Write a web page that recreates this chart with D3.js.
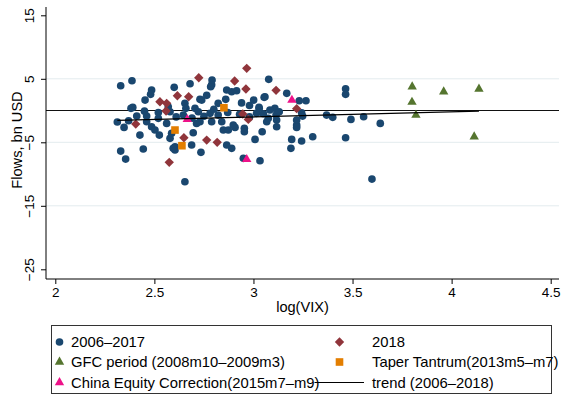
<!DOCTYPE html>
<html>
<head>
<meta charset="utf-8">
<script src="https://cdn.jsdelivr.net/npm/d3@7"></script>
<style>
  html, body { margin: 0; padding: 0; background: #fff; }
  svg { display: block; font-family: "Liberation Sans", Arial, sans-serif; }
</style>
</head>
<body>
<svg id="chart" width="563" height="395"></svg>
<script>
// Monthly portfolio flows (bn USD) against log(VIX)
const flows2006_2017 = [
  [2.330, 3.91], [2.387, 4.69], [2.486, 3.23], [2.481, 2.55], [2.453, 1.65],
  [2.600, 3.65], [2.680, 4.22], [2.791, 4.80], [2.789, 4.06], [2.784, 3.75],
  [2.764, 2.39], [2.730, 1.76], [2.865, 3.23], [2.890, 2.96], [2.915, 3.12],
  [2.860, 1.76], [3.001, 1.65], [3.054, 2.08], [3.077, 4.91], [3.168, 2.71],
  [2.391, 0.50], [2.382, 0.35], [2.313, -1.81], [2.347, -2.65], [2.411, -0.87],
  [2.461, -0.87], [2.461, -1.76], [2.486, -2.55], [2.503, -3.07], [2.525, -3.86],
  [2.520, -1.23], [2.427, -3.86], [2.579, -0.19], [2.562, -2.02], [2.587, -3.59],
  [2.579, -4.38], [2.604, -5.70], [2.604, -6.22], [2.654, 1.13], [2.659, 0.35],
  [2.646, -0.71], [2.705, 0.35], [2.722, -0.19], [2.739, 1.65], [2.730, -1.76],
  [2.713, -2.02], [2.696, -3.50], [2.688, -5.43], [2.735, -6.58], [2.781, -0.44],
  [2.789, -1.76], [2.822, 1.13], [2.822, -0.71], [2.840, -1.76], [2.848, -3.07],
  [2.873, -3.07], [2.907, -2.65], [2.865, -5.43], [2.890, -5.95], [2.949, -7.53],
  [3.033, -7.91], [2.954, -2.80], [2.954, -3.34], [3.008, -4.54], [3.044, -3.34],
  [3.029, 0.35], [3.016, -0.44], [3.067, -1.76], [3.075, -1.23], [3.108, 0.35],
  [3.114, -0.71], [3.117, -1.50], [3.193, -4.54], [3.189, -5.95], [3.218, -2.28],
  [2.330, -6.38], [2.355, -7.64], [2.444, -6.06], [2.654, -11.21], [2.595, -5.95],
  [3.231, 1.54], [3.265, 1.54], [3.243, -0.35], [3.248, -0.87], [3.218, -1.50],
  [3.218, -2.65], [3.243, -4.80], [3.299, -4.13], [3.369, -0.71], [3.400, -1.07],
  [3.465, 3.43], [3.465, 2.55], [3.492, -1.39], [3.556, -0.98], [3.640, -2.02],
  [3.465, -4.28], [3.598, -10.79], [3.117, -2.55], [3.028, 0.50], [3.058, 2.17],
  [3.083, 0.08], [2.898, -2.28], [2.570, 0.60], [2.610, -1.00], [2.690, -1.20],
  [2.750, -0.90], [2.800, 0.20], [2.870, -0.30], [2.930, -0.60], [2.980, -1.00],
  [3.050, -0.50], [3.130, -0.20], [2.520, -0.30], [2.450, -0.10], [2.370, -1.60],
  [2.980, 0.80], [2.940, 1.20]
];
const flows2018 = [
  [2.966, 6.65], [2.724, 5.17], [2.905, 4.65], [2.962, 3.39], [3.114, 3.18],
  [2.616, 2.33], [2.673, 2.17], [2.528, 1.39], [2.562, 1.13], [2.559, -0.08],
  [3.218, 0.30], [2.946, -0.55], [2.974, -1.39], [2.406, -2.13], [2.649, -4.28],
  [2.764, -4.65], [2.817, -5.01], [2.575, -8.16]
];
const flowsGFC = [
  [3.801, 3.75], [3.960, 2.96], [4.138, 3.39], [3.800, 1.34], [3.820, -0.71], [4.114, -4.13]
];
const flowsTaper = [[2.851, 0.44], [2.604, -3.07], [2.639, -5.54]];
const flowsChina = [[2.666, -1.39], [2.966, -7.69], [3.194, 1.65]];
// fitted linear trend, 2006-2018
const trendX = [2.313, 4.138];
const trendY = [-1.54, -0.09];

const xTicks = [2, 2.5, 3, 3.5, 4, 4.5];
const yTicks = [15, 5, -5, -15, -25];
const yGrid = [5, -5, -15];

const colors = {
  navy: "#1a476f", maroon: "#90353b", green: "#55752f",
  orange: "#e37e00", pink: "#ee1289"
};

const svg = d3.select("#chart");
const plot = { left: 46, right: 559, top: 7, bottom: 279 };

const x = d3.scaleLinear().domain([2, 4.5]).range([55.3, 550.7]);
const y = d3.scaleLinear().domain([15, -25]).range([15.3, 269.3]);

// grid
svg.append("g").selectAll("line").data(yGrid).join("line")
  .attr("x1", plot.left).attr("x2", plot.right)
  .attr("y1", d => y(d)).attr("y2", d => y(d))
  .attr("stroke", "#e3ecee").attr("stroke-width", 1);

// zero reference line
svg.append("line")
  .attr("x1", plot.left).attr("x2", plot.right)
  .attr("y1", y(0)).attr("y2", y(0))
  .attr("stroke", "#111").attr("stroke-width", 1.1);

// axes
const xAxis = d3.axisBottom(x).tickValues(xTicks).tickSize(5).tickPadding(3)
  .tickFormat(d3.format("~g"));
const gx = svg.append("g").attr("transform", `translate(0,${plot.bottom})`).call(xAxis);
gx.select(".domain").remove();
gx.selectAll("text").attr("font-size", "13.5px").attr("font-family", "Liberation Sans, Arial, sans-serif").attr("fill", "#000");
gx.selectAll("line").attr("stroke", "#000");
gx.append("line").attr("x1", plot.left).attr("x2", plot.right).attr("y1", 0).attr("y2", 0)
  .attr("stroke", "#000").attr("stroke-width", 1);

const yAxis = d3.axisLeft(y).tickValues(yTicks).tickSize(5).tickFormat(d => d < 0 ? "\u2212" + Math.abs(d) : d);
const gy = svg.append("g").attr("transform", `translate(${plot.left},0)`).call(yAxis);
gy.select(".domain").remove();
gy.selectAll("line").attr("stroke", "#000");
gy.selectAll("text")
  .attr("font-size", "13.5px").attr("font-family", "Liberation Sans, Arial, sans-serif").attr("fill", "#000")
  .attr("x", null).attr("dy", null)
  .attr("text-anchor", "middle")
  .attr("transform", "translate(-12,0) rotate(-90)");
gy.append("line").attr("x1", 0).attr("x2", 0).attr("y1", plot.top).attr("y2", plot.bottom)
  .attr("stroke", "#000").attr("stroke-width", 1);

// axis titles
svg.append("text").attr("x", (plot.left + plot.right) / 2).attr("y", 312)
  .attr("text-anchor", "middle").attr("font-size", "14.6px").text("log(VIX)");
svg.append("text").attr("transform", "translate(22,140) rotate(-90)")
  .attr("text-anchor", "middle").attr("font-size", "14.6px").text("Flows, bn USD");

// markers
const sym = {
  circle: d3.symbol().type(d3.symbolCircle).size(46),
  diamond: d3.symbol().type(d3.symbolSquare).size(44),
  square: d3.symbol().type(d3.symbolSquare).size(58),
  triangle: d3.symbol().type(d3.symbolTriangle).size(38)
};

function drawSeries(data, shape, color) {
  svg.append("g").selectAll("path").data(data).join("path")
    .attr("d", sym[shape]())
    .attr("transform", d => `translate(${x(d[0])},${y(d[1])})${shape === "diamond" ? " rotate(45)" : ""}`)
    .attr("fill", color);
}
drawSeries(flows2006_2017, "circle", colors.navy);
drawSeries(flows2018, "diamond", colors.maroon);
drawSeries(flowsGFC, "triangle", colors.green);
drawSeries(flowsTaper, "square", colors.orange);
drawSeries(flowsChina, "triangle", colors.pink);

// trend line
svg.append("path")
  .datum(trendX.map((v, i) => [v, trendY[i]]))
  .attr("d", d3.line().x(d => x(d[0])).y(d => y(d[1])))
  .attr("stroke", "#000").attr("stroke-width", 1.2).attr("fill", "none");

// legend
const lg = svg.append("g");
lg.append("rect").attr("x", 51.5).attr("y", 325.5).attr("width", 500).attr("height", 68)
  .attr("fill", "#fff").attr("stroke", "#333").attr("stroke-width", 1);
const legendItems = [
  { label: "2006\u20132017", shape: "circle", color: colors.navy, mx: 59.5, tx: 71, ry: 342 },
  { label: "2018", shape: "diamond", color: colors.maroon, mx: 339.5, tx: 372, ry: 342 },
  { label: "GFC period (2008m10\u20132009m3)", shape: "triangle", color: colors.green, mx: 59.5, tx: 71, ry: 362 },
  { label: "Taper Tantrum(2013m5\u2013m7)", shape: "square", color: colors.orange, mx: 339.5, tx: 372, ry: 362 },
  { label: "China Equity Correction(2015m7\u2013m9)", shape: "triangle", color: colors.pink, mx: 59.5, tx: 71, ry: 382.5 },
  { label: "trend (2006\u20132018)", shape: "line", color: "#000", mx: 339.5, tx: 372, ry: 382.5 }
];
legendItems.forEach(it => {
  if (it.shape === "line") {
    lg.append("line").attr("x1", 314.5).attr("x2", 364).attr("y1", it.ry).attr("y2", it.ry)
      .attr("stroke", "#000").attr("stroke-width", 1.2);
  } else {
    lg.append("path").attr("d", sym[it.shape]())
      .attr("transform", `translate(${it.mx},${it.ry})${it.shape === "diamond" ? " rotate(45)" : ""}`)
      .attr("fill", it.color);
  }
  lg.append("text").attr("x", it.tx).attr("y", it.ry + 5.3)
    .attr("font-size", "14.8px").attr("fill", "#000").text(it.label);
});
</script>
</body>
</html>
